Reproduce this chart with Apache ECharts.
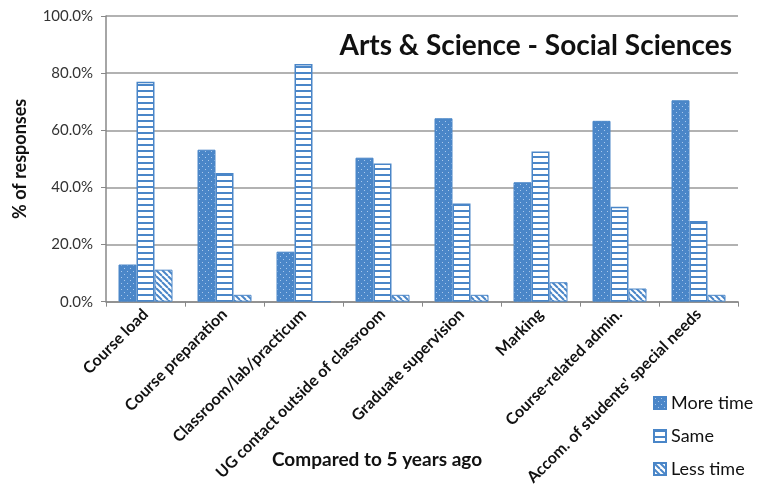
<!DOCTYPE html>
<html><head><meta charset="utf-8">
<script src="https://cdn.jsdelivr.net/npm/echarts@6/dist/echarts.min.js"></script>
<style>html,body{margin:0;padding:0;background:#fff}#c{width:760px;height:488px}</style>
</head><body><div id="c"></div>
<script>
const categories = ["Course load","Course preparation","Classroom/lab/practicum","UG contact outside of classroom","Graduate supervision","Marking","Course-related admin.","Accom. of students' special needs"];
const moreTime = [13.0, 53.2, 17.5, 50.4, 64.2, 41.8, 63.3, 70.5];
const same = [77.0, 45.0, 83.2, 48.4, 34.4, 52.6, 33.2, 28.2];
const lessTime = [11.2, 2.4, 0, 2.4, 2.4, 6.8, 4.6, 2.4];
const yTicks = [0, 20, 40, 60, 80, 100];

const BLUE = '#4a86c8';
function mk(w, h, draw){const c=document.createElement('canvas');c.width=w;c.height=h;draw(c.getContext('2d'));return c;}
const dotPat = mk(6,6,g=>{g.fillStyle=BLUE;g.fillRect(0,0,6,6);g.fillStyle='#a9c8ec';g.fillRect(1,1,1,1);g.fillRect(4,4,1,1);});
const hPat = mk(6,6,g=>{g.fillStyle='#fff';g.fillRect(0,0,6,6);g.fillStyle=BLUE;g.fillRect(0,0,6,2);});
const dPat = mk(6,6,g=>{g.fillStyle='#fff';g.fillRect(0,0,6,6);g.strokeStyle=BLUE;g.lineWidth=2;
  for(let k=-6;k<=12;k+=6){g.beginPath();g.moveTo(k,0);g.lineTo(k+6,6);g.stroke();}});

const chart = echarts.init(document.getElementById('c'), null, {renderer:'canvas'});
const FONT = 'Lato';
chart.setOption({
  animation:false,
  textStyle:{fontFamily:FONT},
  title:{text:'Arts & Science - Social Sciences',right:23,top:27,textStyle:{fontFamily:FONT,fontSize:28,fontWeight:'bold',color:'#111'}},
  grid:{left:106,right:22,top:16,bottom:186},
  legend:{orient:'vertical',left:648,top:389,itemWidth:12,itemHeight:12,itemGap:15,icon:'rect',
    textStyle:{fontFamily:FONT,fontSize:18,color:'#111'},data:['More time','Same','Less time']},
  graphic:[{type:'text',left:272,top:450,style:{text:'Compared to 5 years ago',font:'bold 19px Lato',fill:'#111'}}],
  xAxis:{type:'category',data:categories,
    axisLine:{lineStyle:{color:'#888',width:1.5}},
    axisTick:{show:true,length:5,lineStyle:{color:'#888'}},
    axisLabel:{rotate:45,fontFamily:FONT,fontSize:16,fontWeight:'bold',color:'#111',margin:10,interval:0}},
  yAxis:{type:'value',min:0,max:100,interval:20,
    name:'% of responses',nameLocation:'middle',nameGap:77,nameRotate:90,
    nameTextStyle:{fontFamily:FONT,fontSize:18,fontWeight:'bold',color:'#111'},
    axisLine:{show:true,lineStyle:{color:'#888',width:1.5}},
    axisTick:{show:true,length:5,lineStyle:{color:'#888'}},
    splitLine:{lineStyle:{color:'#999',width:1.5}},
    axisLabel:{fontFamily:FONT,fontSize:15,color:'#333',margin:13,formatter:v=>yTicks.includes(v)?v.toFixed(1)+'%':''}},
  series:[
    {name:'More time',type:'bar',data:moreTime,barWidth:18,barGap:'0%',
      itemStyle:{color:{image:dotPat,repeat:'repeat'},borderColor:BLUE,borderWidth:1}},
    {name:'Same',type:'bar',data:same,barWidth:18,barGap:'0%',
      itemStyle:{color:{image:hPat,repeat:'repeat'},borderColor:BLUE,borderWidth:1.5}},
    {name:'Less time',type:'bar',data:lessTime,barWidth:18,barGap:'0%',
      itemStyle:{color:{image:dPat,repeat:'repeat'},borderColor:BLUE,borderWidth:1}}
  ]
});
</script></body></html>
